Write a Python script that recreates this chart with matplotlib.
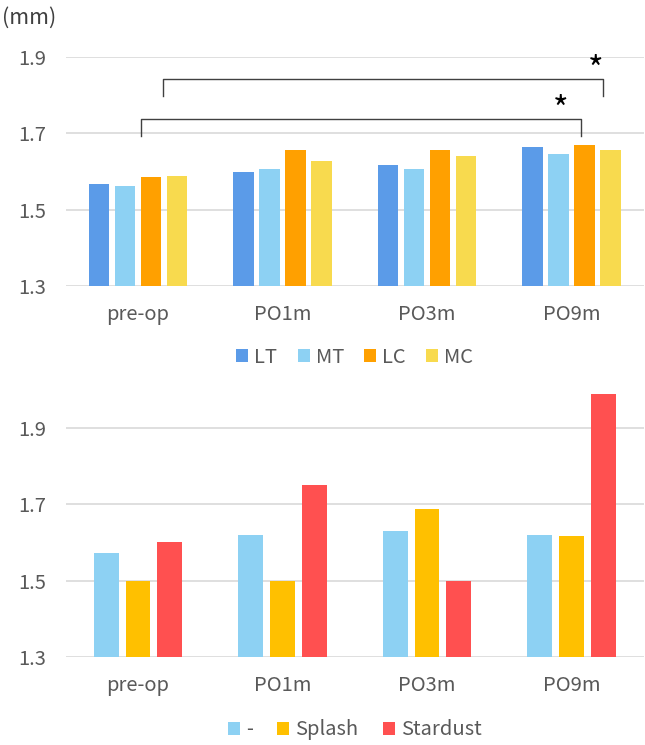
import numpy as np
import matplotlib.pyplot as plt

plt.rcParams['font.family'] = ['Noto Sans CJK JP', 'DejaVu Sans']

categories = ["pre-op", "PO1m", "PO3m", "PO9m"]

# top chart: thickness per region (mm)
top_names = ["LT", "MT", "LC", "MC"]
lt = [1.566, 1.599, 1.617, 1.663]
mt = [1.561, 1.607, 1.605, 1.645]
lc = [1.585, 1.655, 1.655, 1.668]
mc = [1.587, 1.627, 1.641, 1.656]
top_colors = ["#5B9BE8", "#8DD1F3", "#FFA000", "#F8DA4E"]

# bottom chart: by group
bot_names = ["-", "Splash", "Stardust"]
none_vals = [1.573, 1.619, 1.631, 1.620]
splash = [1.500, 1.500, 1.687, 1.616]
stardust = [1.600, 1.750, 1.500, 1.988]
bot_colors = ["#8DD1F3", "#FFC000", "#FF5050"]

yticks = [1.3, 1.5, 1.7, 1.9]
txt = "#595959"
fs = 14.5

fig = plt.figure(figsize=(6.45, 7.45), dpi=100)
ax1 = fig.add_axes([0.102, 0.616, 0.896, 0.308])
ax2 = fig.add_axes([0.102, 0.118, 0.896, 0.359])

x = np.arange(len(categories))


def style(ax, top):
    ax.set_ylim(1.3, top)
    ax.set_xlim(-0.5, len(categories) - 0.5)
    ax.set_yticks(yticks)
    ax.set_yticklabels([f"{v:.1f}" for v in yticks])
    ax.set_xticks(x)
    ax.set_xticklabels(categories)
    ax.tick_params(length=0, labelsize=fs, labelcolor=txt)
    ax.tick_params(axis="x", pad=13)
    ax.tick_params(axis="y", pad=14)
    ax.grid(axis="y", color="#d9d9d9", lw=1.2)
    ax.set_axisbelow(True)
    for s in ax.spines.values():
        s.set_visible(False)


# top chart
w1, step1 = 0.143, 0.18
for i, (vals, name, col) in enumerate(zip([lt, mt, lc, mc], top_names, top_colors)):
    ax1.bar(x + (i - 1.5) * step1, np.array(vals) - 1.3, w1, bottom=1.3,
            color=col, label=name)
style(ax1, 1.9)

# significance brackets
br = "#404040"
ax1.plot([0.172, 0.172, 3.217, 3.217], [1.798, 1.841, 1.841, 1.798],
         color=br, lw=1, clip_on=False)
ax1.plot([0.021, 0.021, 3.068, 3.068], [1.693, 1.738, 1.738, 1.693],
         color=br, lw=1, clip_on=False)
ax1.text(3.168, 1.862, "*", ha="center", va="center", fontsize=24, color="black")
ax1.text(2.925, 1.758, "*", ha="center", va="center", fontsize=24, color="black")

fig.text(0.003, 0.976, "(mm)", fontsize=15.5, color="#404040", va="center")

ax1.legend(loc="upper center", bbox_to_anchor=(0.5, -0.185), ncol=4, frameon=False,
           fontsize=fs, labelcolor=txt, handlelength=0.6, handleheight=0.6,
           handletextpad=0.3, columnspacing=1.0)

# bottom chart
w2, step2 = 0.172, 0.22
for i, (vals, name, col) in enumerate(zip([none_vals, splash, stardust], bot_names, bot_colors)):
    ax2.bar(x + (i - 1) * step2, np.array(vals) - 1.3, w2, bottom=1.3,
            color=col, label=name)
style(ax2, 2.0)

ax2.legend(loc="upper center", bbox_to_anchor=(0.5, -0.165), ncol=3, frameon=False,
           fontsize=fs, labelcolor=txt, handlelength=0.6, handleheight=0.6,
           handletextpad=0.3, columnspacing=1.2)

fig.savefig("out.png", dpi=100)
